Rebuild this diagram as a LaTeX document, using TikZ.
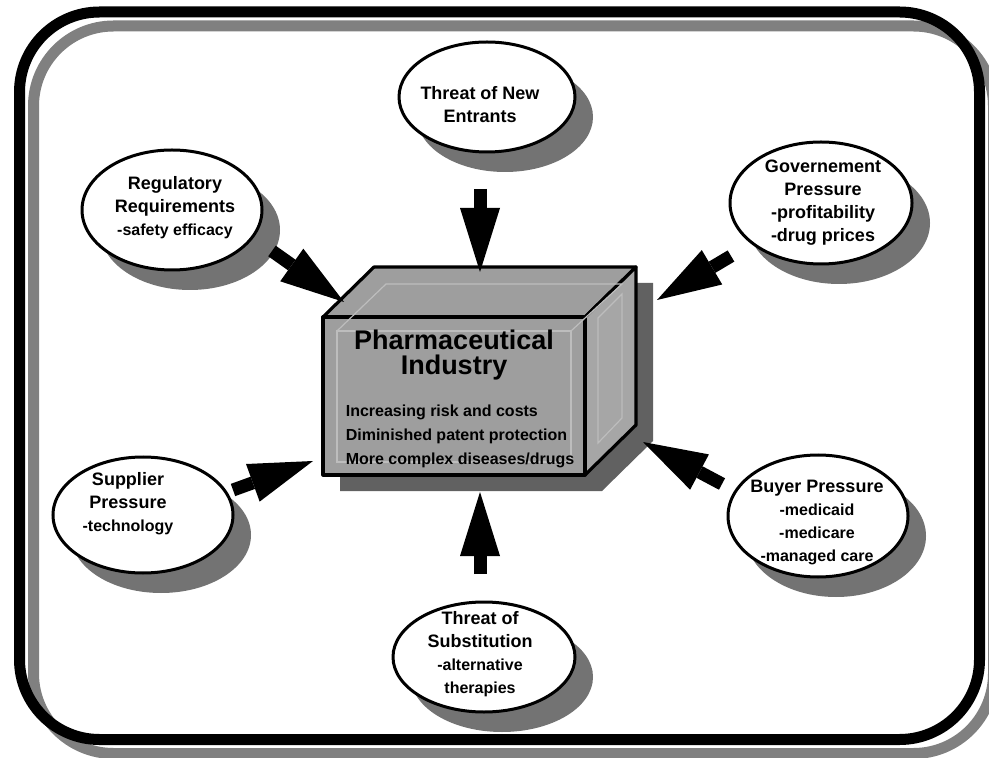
\documentclass[tikz,border=0pt]{standalone}
\usepackage{fontspec}
\setmainfont{Liberation Sans}
\usepackage{tikz}
\usetikzlibrary{shapes.geometric, arrows.meta, positioning, calc, shadows}
\definecolor{frameshade}{gray}{0.50}
\definecolor{bubbleshade}{gray}{0.45}
\definecolor{boxface}{gray}{0.62}
\definecolor{boxside}{gray}{0.65}
\definecolor{boxshade}{gray}{0.38}
\definecolor{bevelgray}{gray}{0.74}
\newcommand{\bubnote}[1]{{\fontsize{8}{11.5}\selectfont #1}}

\begin{document}
\begin{tikzpicture}[
  x=0.5pt, y=-0.5pt,
  bubble/.style={ellipse, draw=black, line width=1.5pt, fill=white, inner sep=0pt,
                 drop shadow={shadow xshift=9pt, shadow yshift=-10pt, fill=bubbleshade, opacity=1}},
  bubtext/.style={align=center, inner sep=0pt, font=\fontsize{9}{11.5}\selectfont\bfseries},
  face/.style={draw=black, line width=1.6pt, line join=round, fill=boxface},
  bevel/.style={draw=bevelgray, line width=0.6pt},
  push/.style={line width=6.5pt, -{Triangle[length=32pt, width=20pt, line width=0pt]}},
  frame/.style={line width=5.5pt, rounded corners=40pt}
]
  \useasboundingbox (0,0) rectangle (989,758);

  % ── Frame ───────────────────────────────────────────────────────────────────
  \draw[frame, frameshade] (33.5,26) rectangle (993.5,753.5);
  \draw[frame, black]      (19.5,12) rectangle (979.5,739.5);

  % ── Industry box ────────────────────────────────────────────────────────────
  \fill[boxshade, shift={(17,16)}]
    (323,317) -- (374,267) -- (636,267) -- (636,425) -- (585,475) -- (323,475) -- cycle;
  \draw[face] (323,317) -- (374,267) -- (636,267) -- (585,317) -- cycle;
  \draw[face, fill=boxside] (585,317) -- (636,267) -- (636,425) -- (585,475) -- cycle;
  \node[face, rectangle, minimum width=131pt, minimum height=79pt, inner sep=0pt] (ind) at (454,396) {};
  \draw[bevel] (337,331) rectangle (571,462);
  \draw[bevel] (337,331) -- (386,284) -- (622,284) -- (571,331);
  \draw[bevel] (598,318) -- (622,294) -- (622,418) -- (598,443) -- cycle;

  \node[font=\fontsize{13.5}{12.5}\selectfont\bfseries, align=center, inner sep=0pt,
        below=7pt of ind.north] (ttl) {Pharmaceutical\\Industry};
  \node[font=\fontsize{8}{12}\selectfont\bfseries, align=left, inner sep=0pt,
        below right=44.5pt and 12pt of ind.north west] (lst) {%
    Increasing risk and costs\\
    Diminished patent protection\\
    More complex diseases/drugs};

  % ── Forces ──────────────────────────────────────────────────────────────────
  \node[bubble, minimum width=88pt, minimum height=55pt] (ent) at (487,97) {};
  \node[bubtext] (ent-txt) at ($(ent)+(-7,8)$) {Threat of New\\Entrants};

  \node[bubble, minimum width=90pt, minimum height=60pt] (reg) at (172,210) {};
  \node[bubtext] (reg-txt) at ($(reg)+(3,-2)$)
    {Regulatory\\Requirements\\\bubnote{-safety efficacy}};

  \node[bubble, minimum width=91pt, minimum height=61pt] (gov) at (821,203) {};
  \node[bubtext] (gov-txt) at ($(gov)+(2,0)$)
    {Governement\\Pressure\\-profitability\\-drug prices};

  \node[bubble, minimum width=90pt, minimum height=58pt] (sup) at (143,515) {};
  \node[bubtext] (sup-txt) at ($(sup)+(-15,-11)$)
    {Supplier\\Pressure\\\bubnote{-technology}};

  \node[bubble, minimum width=90pt, minimum height=61pt] (buy) at (818,516) {};
  \node[bubtext] (buy-txt) at ($(buy)+(-1,7)$)
    {Buyer Pressure\\\bubnote{-medicaid}\\\bubnote{-medicare}\\\bubnote{-managed care}};

  \node[bubble, minimum width=91pt, minimum height=55pt] (sub) at (484,657) {};
  \node[bubtext] (sub-txt) at ($(sub)+(-4,-3)$)
    {Threat of\\Substitution\\\bubnote{-alternative}\\\bubnote{therapies}};

  % ── Arrows ──────────────────────────────────────────────────────────────────
  \coordinate (ent-out) at (480,189);  \coordinate (ent-in) at (480,272);
  \coordinate (reg-out) at (272,251);  \coordinate (reg-in) at (344,302);
  \coordinate (gov-out) at (731,256);  \coordinate (gov-in) at (657,300);
  \coordinate (sup-out) at (233,490);  \coordinate (sup-in) at (313,461);
  \coordinate (buy-out) at (722,484);  \coordinate (buy-in) at (643,442);
  \coordinate (sub-out) at (480,574);  \coordinate (sub-in) at (480,492);

  \draw[push] (ent-out) -- (ent-in);
  \draw[push] (reg-out) -- (reg-in);
  \draw[push] (gov-out) -- (gov-in);
  \draw[push] (sup-out) -- (sup-in);
  \draw[push] (buy-out) -- (buy-in);
  \draw[push] (sub-out) -- (sub-in);
\end{tikzpicture}
\end{document}
